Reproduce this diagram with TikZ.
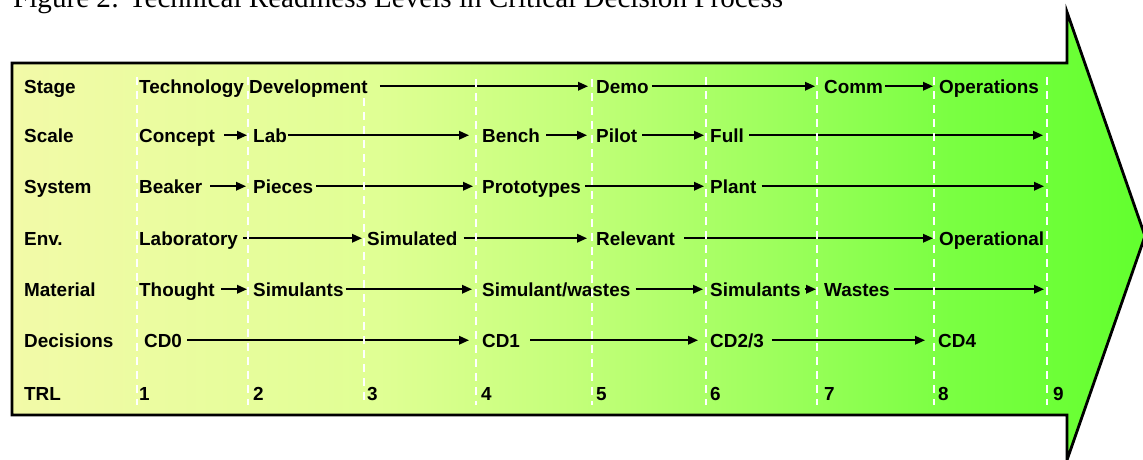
\documentclass[tikz,border=0pt]{standalone}
\usepackage{fontspec}
\usepackage{graphicx}
\newfontfamily\trlsans{Liberation Sans}
\newfontfamily\trlserif{Liberation Serif}
\usetikzlibrary{arrows.meta}
\definecolor{g0}{RGB}{242,250,168}
\definecolor{g1}{RGB}{224,255,148}
\definecolor{g2}{RGB}{196,255,122}
\definecolor{g3}{RGB}{160,255,95}
\definecolor{g4}{RGB}{122,255,66}
\definecolor{g5}{RGB}{98,255,46}
\pgfdeclarehorizontalshading{trlshade}{100bp}{color(0bp)=(g0); color(25bp)=(g0); color(41.2bp)=(g1); color(49.6bp)=(g2); color(58bp)=(g3); color(66.4bp)=(g4); color(75bp)=(g5); color(100bp)=(g5)}
\begin{document}
\begin{tikzpicture}[x=1pt,y=-1pt,
  lbl/.style={anchor=base west, inner sep=0pt, text height=13.5pt, text depth=0pt, font=\trlsans\bfseries\fontsize{18.9}{22}\selectfont},
  arr/.style={line width=1.8pt, -{Triangle[length=10pt,width=8.5pt]}},
  coldash/.style={white, line width=2.2pt, dash pattern=on 8pt off 6pt},
  body/.style={draw=black, line width=2.8pt, line join=miter, shade, shading=trlshade}]
\useasboundingbox (0,0) rectangle (1143,460);
\path[body] (12,63) -- (1067,63) -- (1067,12) -- (1145,236) -- (1067,460) -- (1067,415) -- (12,415) -- cycle;
\node[anchor=base west, inner sep=0pt] (cap) at (13,8) {\resizebox{770pt}{!}{\trlserif Figure 2: Technical Readiness Levels in Critical Decision Process}};
% columns
\foreach \n/\x/\y in {1/137/77,2/248/77,3/364/98,4/476/79,5/592/79,6/706/77,7/817/77,8/934/77,9/1047/77}
  \coordinate (k\n) at (\x,\y);
% Stage
\node[lbl] (stage) at (24,93) {Stage};
\node[lbl] (techdev) at (139,93) {Technology Development};
\node[lbl] (demo) at (596,93) {Demo};
\node[lbl] (comm) at (824,93) {Comm};
\node[lbl] (ops) at (939,93) {Operations};
% Scale
\node[lbl] (scale) at (24,142) {Scale};
\node[lbl] (concept) at (139,142) {Concept};
\node[lbl] (lab) at (253,142) {Lab};
\node[lbl] (bench) at (482,142) {Bench};
\node[lbl] (pilot) at (596,142) {Pilot};
\node[lbl] (full) at (710,142) {Full};
% System
\node[lbl] (system) at (24,193) {System};
\node[lbl] (beaker) at (139,193) {Beaker};
\node[lbl] (pieces) at (253,193) {Pieces};
\node[lbl] (proto) at (482,193) {Prototypes};
\node[lbl] (plant) at (710,193) {Plant};
% Env
\node[lbl] (env) at (24,245) {Env.};
\node[lbl] (labor) at (139,245) {Laboratory};
\node[lbl] (simd) at (367,245) {Simulated};
\node[lbl] (relev) at (596,245) {Relevant};
\node[lbl] (opnl) at (939,245) {Operational};
% Material
\node[lbl] (material) at (24,296) {Material};
\node[lbl] (thought) at (139,296) {Thought};
\node[lbl] (sims) at (253,296) {Simulants};
\node[lbl] (simw) at (482,296) {Simulant/wastes};
\node[lbl] (simsb) at (710,296) {Simulants};
\node[lbl] (wastes) at (824,296) {Wastes};
% Decisions
\node[lbl] (decisions) at (24,347) {Decisions};
\node[lbl] (cd0) at (144,347) {CD0};
\node[lbl] (cd1) at (482,347) {CD1};
\node[lbl] (cd23) at (710,347) {CD2/3};
\node[lbl] (cd4) at (938,347) {CD4};
% TRL
\node[lbl] (trl) at (24,400) {TRL};
\foreach \n/\x in {1/139,2/253,3/367,4/481,5/596,6/710,7/824,8/938,9/1053}
  \node[lbl] (t\n) at (\x,400) {\n};
% arrows
\draw[arr, shorten <=12pt, shorten >=8pt] (techdev.east) -- (demo.west);
\draw[arr, shorten <=3pt, shorten >=9pt] (demo.east) -- (comm.west);
\draw[arr, shorten <=2pt, shorten >=6pt] (comm.east) -- (ops.west);
\draw[arr, shorten <=9pt, shorten >=6pt] (concept.east) -- (lab.west);
\draw[arr, shorten <=1pt, shorten >=13pt] (lab.east) -- (bench.west);
\draw[arr, shorten <=6pt, shorten >=9pt] (bench.east) -- (pilot.west);
\draw[arr, shorten <=5pt, shorten >=6pt] (pilot.east) -- (full.west);
\draw[arr, shorten <=5pt, shorten >=4pt] (full.east) -- (full.east -| k9);
\draw[arr, shorten <=8pt, shorten >=7pt] (beaker.east) -- (pieces.west);
\draw[arr, shorten <=3pt, shorten >=9pt] (pieces.east) -- (proto.west);
\draw[arr, shorten <=4pt, shorten >=6pt] (proto.east) -- (plant.west);
\draw[arr, shorten <=5pt, shorten >=3pt] (plant.east) -- (plant.east -| k9);
\draw[arr, shorten <=5pt, shorten >=5pt] (labor.east) -- (simd.west);
\draw[arr, shorten <=6pt, shorten >=9pt] (simd.east) -- (relev.west);
\draw[arr, shorten <=9pt, shorten >=6pt] (relev.east) -- (opnl.west);
\draw[arr, shorten <=6pt, shorten >=6pt] (thought.east) -- (sims.west);
\draw[arr, shorten <=2pt, shorten >=10pt] (sims.east) -- (simw.west);
\draw[arr, shorten <=5pt, shorten >=7pt] (simw.east) -- (simsb.west);
\draw[arr, shorten <=4pt, shorten >=8pt] (simsb.east) -- (wastes.west);
\draw[arr, shorten <=4pt, shorten >=3pt] (wastes.east) -- (wastes.east -| k9);
\draw[arr, shorten <=5pt, shorten >=13pt] (cd0.east) -- (cd1.west);
\draw[arr, shorten <=10pt, shorten >=12pt] (cd1.east) -- (cd23.west);
\draw[arr, shorten <=8pt, shorten >=13pt] (cd23.east) -- (cd4.west);
% dashed column lines
\foreach \n in {1,...,9}
  \draw[coldash] (k\n) -- (k\n |- 0,405);
\end{tikzpicture}
\end{document}
